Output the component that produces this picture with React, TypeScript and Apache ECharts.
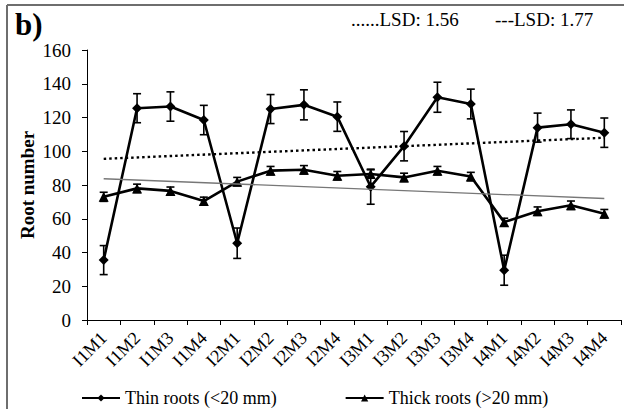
import React, { useEffect, useRef } from "react";
import * as echarts from "echarts";

const categories = ["I1M1", "I1M2", "I1M3", "I1M4", "I2M1", "I2M2", "I2M3", "I2M4", "I3M1", "I3M2", "I3M3", "I3M4", "I4M1", "I4M2", "I4M3", "I4M4"];
const thinRoots = [35.5, 125.5, 126.5, 118.5, 45.5, 125, 127.5, 120.5, 79, 103, 132, 128, 29.5, 114, 116, 111];
const thinErr = [8.6, 8.6, 8.7, 8.7, 9, 8.6, 8.9, 8.7, 10.4, 8.7, 8.9, 8.8, 8.9, 8.6, 8.5, 8.7];
const thickRoots = [73, 78, 76.5, 70.5, 82, 88.5, 89, 85.5, 86.5, 84.5, 88.5, 85, 58, 64.5, 68, 63];
const thickErr = [2.7, 2.5, 2.3, 2.3, 2.5, 2.5, 2.5, 2.5, 2.5, 2.5, 2.5, 2.5, 2.3, 2.5, 2.5, 2.5];
const thinTrend = [95.5, 108];
const thickTrend = [83.7, 72];
const yTicks = { min: 0, max: 160, interval: 20 };
const seriesNames = ["Thin roots (<20 mm)", "Thick roots (>20 mm)"];
const lsdLabels = ["......LSD: 1.56", "---LSD: 1.77"];
const panelLabel = "b)";

const FONT = "'Liberation Serif', 'Times New Roman', serif";

function errorSeries(values: number[], errs: number[], capHalf: number) {
  const data = values.map((v, i) => [i, v - errs[i], v + errs[i]]);
  return {
    type: "custom",
    silent: true,
    z: 1,
    renderItem: (params: any, api: any) => {
      const x = api.value(0);
      const lo = api.coord([x, api.value(1)]);
      const hi = api.coord([x, api.value(2)]);
      const style = { stroke: "#000", lineWidth: 1.6 };
      return {
        type: "group",
        children: [
          { type: "line", shape: { x1: lo[0], y1: lo[1], x2: hi[0], y2: hi[1] }, style },
          { type: "line", shape: { x1: lo[0] - capHalf, y1: lo[1], x2: lo[0] + capHalf, y2: lo[1] }, style },
          { type: "line", shape: { x1: hi[0] - capHalf, y1: hi[1], x2: hi[0] + capHalf, y2: hi[1] }, style },
        ],
      };
    },
    data,
  };
}

export default function App() {
  const ref = useRef<HTMLDivElement>(null);
  useEffect(() => {
    document.body.style.margin = "0";
    const chart = echarts.init(ref.current!, undefined, { renderer: "svg" });
    const last = categories.length - 1;
    chart.setOption({
      animation: false,
      backgroundColor: "#fff",
      textStyle: { fontFamily: FONT, color: "#000" },
      grid: { left: 87, right: 3, top: 50, bottom: 89, outerBoundsMode: "none" },
      legend: {
        left: 76,
        top: 384,
        itemGap: 68,
        itemWidth: 38,
        itemHeight: 9,
        data: seriesNames,
        textStyle: { fontFamily: FONT, fontSize: 18, color: "#000" },
      },
      graphic: [
        { type: "line", shape: { x1: 7, y1: 5, x2: 624, y2: 5 }, style: { stroke: "#6e6e6e", lineWidth: 2 } },
        { type: "line", shape: { x1: 7, y1: 5, x2: 7, y2: 409 }, style: { stroke: "#6e6e6e", lineWidth: 2 } },
        { type: "text", x: 15, y: 9, style: { text: panelLabel, font: `bold 31px ${FONT}`, fill: "#000" } },
        { type: "text", x: 351, y: 10, style: { text: lsdLabels[0], font: `19px ${FONT}`, fill: "#000" } },
        { type: "text", x: 495, y: 10, style: { text: lsdLabels[1], font: `19px ${FONT}`, fill: "#000" } },
      ],
      xAxis: {
        type: "category",
        data: categories,
        boundaryGap: true,
        axisLine: { lineStyle: { color: "#000", width: 1 } },
        axisTick: { show: true, length: 5, lineStyle: { color: "#000" } },
        axisLabel: { rotate: 45, fontSize: 18, fontFamily: FONT, color: "#000", margin: 15, interval: 0 },
        splitLine: { show: false },
      },
      yAxis: {
        type: "value",
        min: yTicks.min,
        max: yTicks.max,
        interval: yTicks.interval,
        name: "Root number",
        nameLocation: "middle",
        nameGap: 50,
        nameMoveOverlap: false,
        nameTextStyle: { fontFamily: FONT, fontSize: 19, fontWeight: "bold", color: "#000" },
        axisLine: { show: true, lineStyle: { color: "#000", width: 1 } },
        axisTick: { show: true, length: 5, lineStyle: { color: "#000" } },
        axisLabel: { fontSize: 19, fontFamily: FONT, color: "#000", margin: 16 },
        splitLine: { show: false },
      },
      series: [
        {
          name: seriesNames[0],
          type: "line",
          data: thinRoots,
          symbol: "diamond",
          symbolSize: 10,
          z: 3,
          itemStyle: { color: "#000" },
          lineStyle: { color: "#000", width: 2.6 },
          markLine: {
            silent: true,
            symbol: "none",
            label: { show: false },
            lineStyle: { color: "#000", width: 2.4, type: [2.5, 3] },
            data: [[{ coord: [categories[0], thinTrend[0]] }, { coord: [categories[last], thinTrend[1]] }]],
          },
        },
        {
          name: seriesNames[1],
          type: "line",
          data: thickRoots,
          symbol: "triangle",
          symbolSize: 10,
          z: 3,
          itemStyle: { color: "#000" },
          lineStyle: { color: "#000", width: 2.6 },
          markLine: {
            silent: true,
            symbol: "none",
            label: { show: false },
            lineStyle: { color: "#777", width: 1.3, type: "solid" },
            data: [[{ coord: [categories[0], thickTrend[0]] }, { coord: [categories[last], thickTrend[1]] }]],
          },
        },
        errorSeries(thinRoots, thinErr, 4),
        errorSeries(thickRoots, thickErr, 4),
      ],
    });
    return () => chart.dispose();
  }, []);
  return <div ref={ref} style={{ width: 624, height: 409 }} />;
}
